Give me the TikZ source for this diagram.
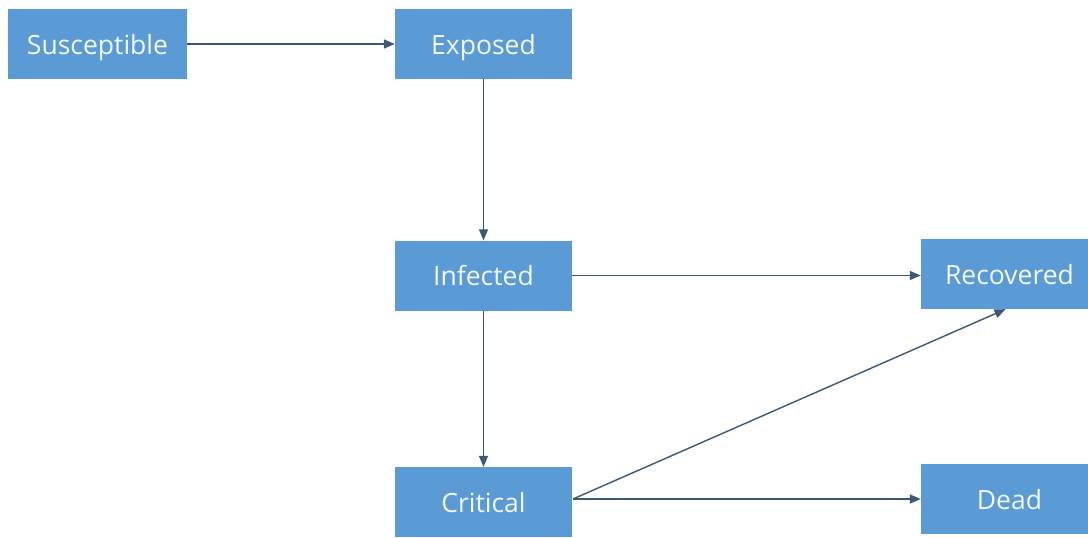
\documentclass[tikz,border=0pt]{standalone}
\usepackage{fontspec}
\setmainfont{Open Sans}
\usetikzlibrary{arrows.meta}
\definecolor{boxblue}{HTML}{5B9BD5}
\definecolor{arrowc}{HTML}{3A5878}
\definecolor{txtc}{HTML}{F2F8FD}
\begin{document}
\begin{tikzpicture}[x=1pt,y=-1pt,
  box/.style={fill=boxblue,draw=none,text=txtc,inner sep=0pt,
    text height=20pt,text depth=0pt,
    minimum width=177pt,minimum height=70pt,font=\fontsize{26.5}{30}\selectfont},
  conn/.style={draw=arrowc,line width=1.4pt,-{Triangle[length=11pt,width=9pt]}}]
\clip (0,0) rectangle (1088,538);
\useasboundingbox (0,0) rectangle (1088,538);
\node[box,minimum width=179pt] (S) at (97.5,44) {Susceptible};
\node[box] (E) at (483.5,44) {Exposed};
\node[box] (I) at (483.5,275.5) {Infected};
\node[box] (R) at (1009.5,274) {Recovered};
\node[box] (C) at (483.5,502) {Critical};
\node[box] (D) at (1009.5,499) {Dead};
\draw[conn] (S.east) -- (E.west);
\draw[conn] (E.south) -- (I.north);
\draw[conn] (I.east) -- (I.east -| R.west);
\draw[conn] (I.south) -- (C.north);
\coordinate (cout) at (573,499);
\draw[conn] (cout) -- ([xshift=-4pt]R.south);
\draw[conn] (cout) -- (cout -| D.west);
\end{tikzpicture}
\end{document}
